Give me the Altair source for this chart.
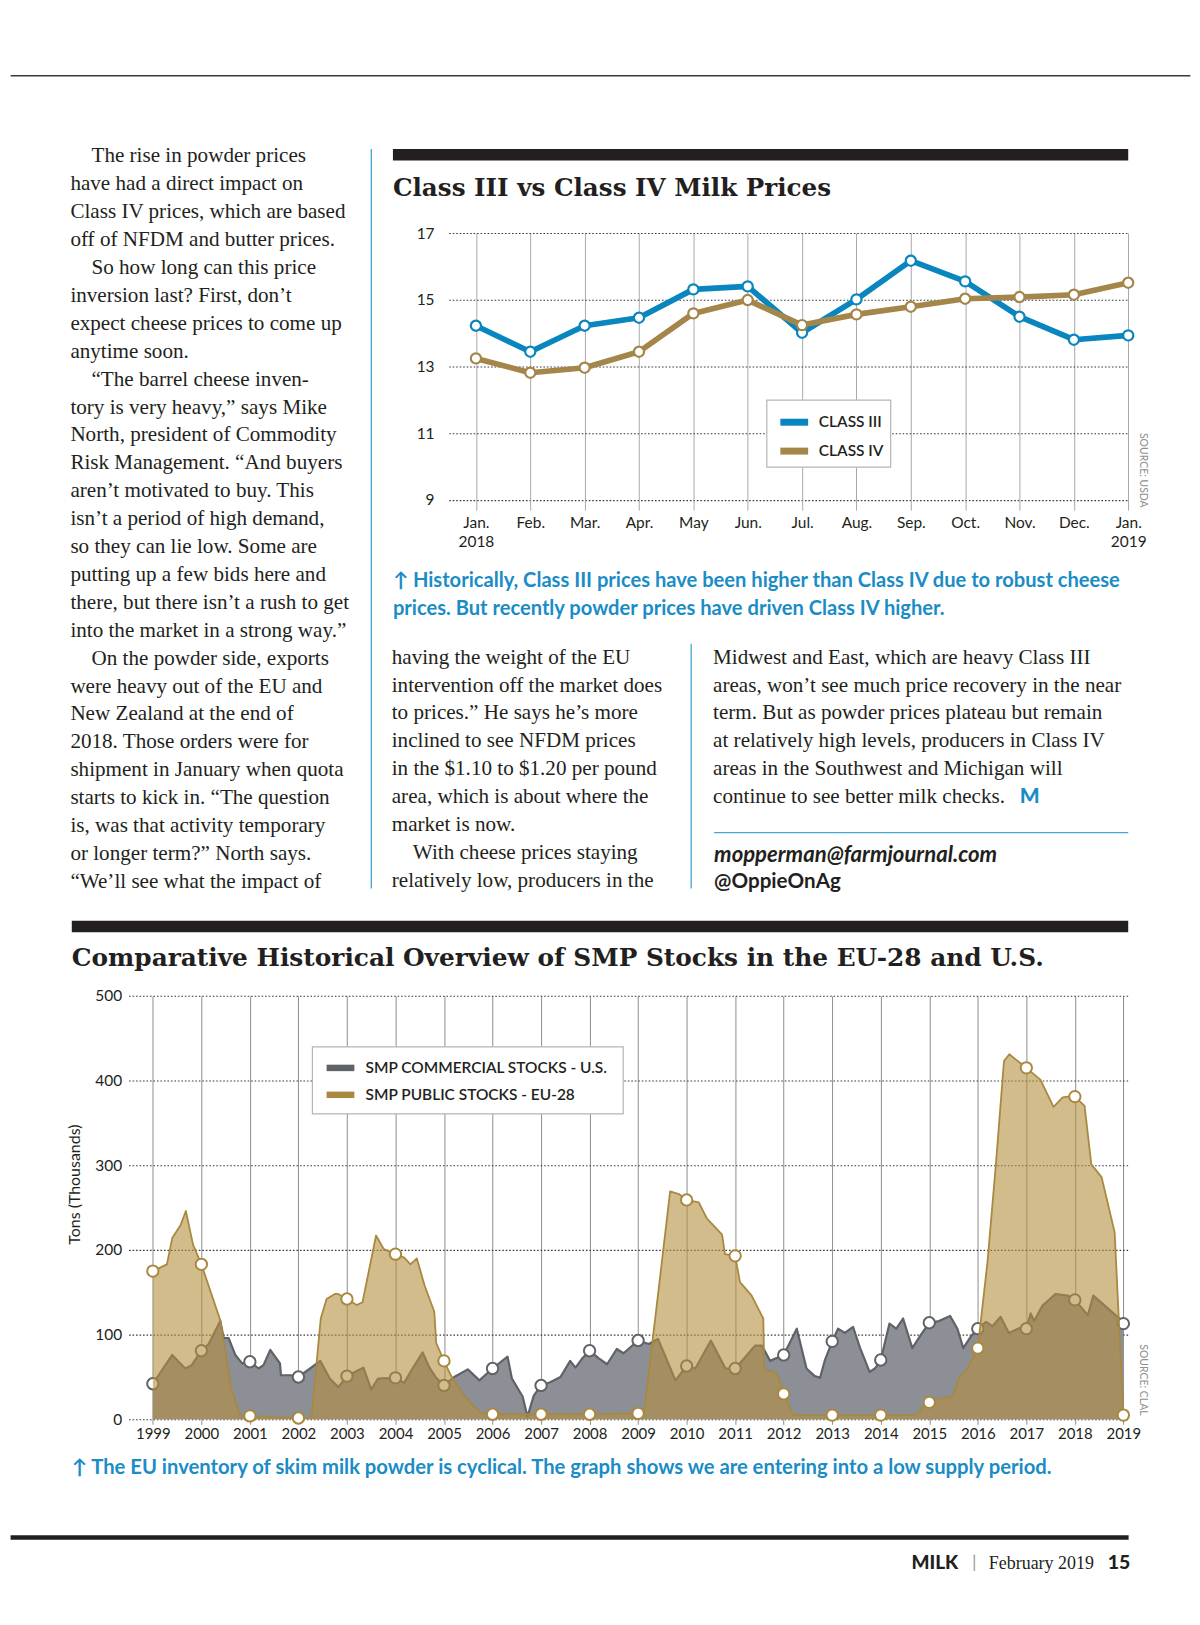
import altair as alt
import pandas as pd

# ---------------- data ----------------
month_labels = ["Jan.", "Feb.", "Mar.", "Apr.", "May", "Jun.", "Jul.", "Aug.", "Sep.", "Oct.", "Nov.", "Dec.", "Jan."]
month_years = {0: "2018", 12: "2019"}
class_iii = [14.22, 13.44, 14.22, 14.46, 15.31, 15.40, 14.01, 15.01, 16.17, 15.55, 14.49, 13.80, 13.93]
class_iv = [13.24, 12.81, 12.96, 13.44, 14.59, 14.99, 14.24, 14.56, 14.79, 15.03, 15.08, 15.15, 15.51]
top_series = ["CLASS III", "CLASS IV"]
top_colors = ["#0a86bf", "#a5864a"]
top_y_ticks = [9, 11, 13, 15, 17]

us_t = [1999.0, 1999.4, 1999.53, 1999.67, 1999.8, 2000.0, 2000.15, 2000.39, 2000.46, 2000.56, 2000.7, 2000.84,
        2001.0, 2001.18, 2001.28, 2001.42, 2001.62, 2001.64, 2001.86, 2002.0, 2002.24, 2002.45, 2002.65, 2002.82,
        2003.0, 2003.2, 2003.34, 2003.5, 2003.64, 2004.0, 2004.18, 2004.32, 2004.56, 2004.7, 2004.84,
        2005.0, 2005.21, 2005.49, 2005.73, 2006.0, 2006.31, 2006.4, 2006.62, 2006.72, 2006.85,
        2007.0, 2007.2, 2007.4, 2007.6, 2007.71, 2007.85, 2008.0, 2008.19, 2008.36, 2008.56, 2008.7,
        2009.0, 2009.22, 2009.41, 2009.77, 2010.0, 2010.18, 2010.5, 2010.8, 2011.0, 2011.17, 2011.41, 2011.55,
        2011.72, 2012.0, 2012.27, 2012.47, 2012.64, 2012.75, 2012.85, 2013.0, 2013.12, 2013.26, 2013.43,
        2013.57, 2013.77, 2013.88, 2014.0, 2014.18, 2014.32, 2014.46, 2014.65, 2014.83, 2015.0, 2015.2,
        2015.43, 2015.58, 2015.7, 2015.86, 2016.0, 2016.17, 2016.3, 2016.47, 2016.64, 2016.91, 2017.0,
        2017.09, 2017.16, 2017.33, 2017.6, 2017.86, 2018.0, 2018.27, 2018.38, 2018.68, 2018.96, 2019.0]
us_v = [42, 76, 68, 60, 64, 81, 89, 116, 96, 96, 76, 66,
        68, 60, 64, 82, 66, 52, 52, 50, 60, 69, 48, 38,
        51, 57, 61, 35, 48, 49, 43, 57, 79, 61, 49,
        40, 50, 59, 46, 60, 74, 48, 27, 3, 28,
        40, 44, 50, 69, 61, 72, 81, 72, 65, 83, 78,
        93, 89, 95, 46, 63, 60, 93, 60, 60, 71, 87, 87,
        69, 76, 107, 60, 51, 49, 70, 92, 107, 102, 109,
        85, 56, 60, 70, 113, 107, 119, 84, 100, 114, 116,
        122, 107, 84, 98, 107, 115, 110, 121, 102, 109, 107,
        125, 116, 134, 148, 146, 141, 123, 146, 131, 117, 113]
eu_t = [1999.0, 1999.29, 1999.4, 1999.57, 1999.68, 1999.83, 2000.0, 2000.39, 2000.6, 2000.8, 2001.0,
        2002.0, 2002.27, 2002.46, 2002.58, 2002.75, 2002.82, 2003.0, 2003.2, 2003.32, 2003.6, 2003.76,
        2004.0, 2004.18, 2004.31, 2004.44, 2004.6, 2004.8, 2004.84, 2005.0, 2005.14, 2005.32, 2005.5,
        2005.75, 2005.95, 2006.0, 2007.0, 2008.0, 2009.0, 2009.12, 2009.66, 2009.84, 2010.0, 2010.25,
        2010.42, 2010.73, 2010.79, 2011.0, 2011.1, 2011.34, 2011.58, 2011.6, 2011.82, 2011.89, 2012.0,
        2012.2, 2013.0, 2014.0, 2014.7, 2015.0, 2015.2, 2015.48, 2015.62, 2015.75, 2016.0, 2016.2,
        2016.37, 2016.54, 2016.65, 2016.78, 2017.0, 2017.29, 2017.56, 2017.75, 2017.86, 2018.0, 2018.2,
        2018.34, 2018.55, 2018.82, 2019.0]
eu_v = [175, 183, 214, 229, 246, 206, 183, 117, 40, 4, 4,
        1.5, 2, 119, 142, 148, 148, 142, 135, 138, 217, 201,
        195, 191, 183, 190, 158, 127, 90, 69, 52, 36, 22,
        8, 6, 6, 6, 6, 7, 6, 269, 266, 259, 256,
        237, 218, 195, 193, 162, 146, 119, 58, 56, 50, 30,
        5, 5, 5, 5, 20, 24, 27, 50, 56, 84, 186,
        299, 423, 431, 425, 415, 401, 369, 380, 381, 381, 370,
        301, 286, 221, 5]
bottom_series = ["SMP COMMERCIAL STOCKS - U.S.", "SMP PUBLIC STOCKS - EU-28"]
bottom_line_colors = ["#5f6266", "#a8893f"]
bottom_x_ticks = list(range(1999, 2020))
bottom_y_ticks = [0, 100, 200, 300, 400, 500]

top_title = "Class III vs Class IV Milk Prices"
bottom_title = "Comparative Historical Overview of SMP Stocks in the EU-28 and U.S."
top_caption = ["\u2191 Historically, Class III prices have been higher than Class IV due to robust cheese",
               "prices. But recently powder prices have driven Class IV higher."]
bottom_caption = "\u2191 The EU inventory of skim milk powder is cyclical. The graph shows we are entering into a low supply period."
IND = "\u200b\u00a0\u00a0\u00a0\u00a0"   # paragraph indent (zero-width lead keeps the spaces)
left_col = [
    IND + "The rise in powder prices",
    "have had a direct impact on",
    "Class IV prices, which are based",
    "off of NFDM and butter prices.",
    IND + "So how long can this price",
    "inversion last? First, don\u2019t",
    "expect cheese prices to come up",
    "anytime soon.",
    IND + "\u201cThe barrel cheese inven-",
    "tory is very heavy,\u201d says Mike",
    "North, president of Commodity",
    "Risk Management. \u201cAnd buyers",
    "aren\u2019t motivated to buy. This",
    "isn\u2019t a period of high demand,",
    "so they can lie low. Some are",
    "putting up a few bids here and",
    "there, but there isn\u2019t a rush to get",
    "into the market in a strong way.\u201d",
    IND + "On the powder side, exports",
    "were heavy out of the EU and",
    "New Zealand at the end of",
    "2018. Those orders were for",
    "shipment in January when quota",
    "starts to kick in. \u201cThe question",
    "is, was that activity temporary",
    "or longer term?\u201d North says.",
    "\u201cWe\u2019ll see what the impact of",
]
mid_col = [
    "having the weight of the EU",
    "intervention off the market does",
    "to prices.\u201d He says he\u2019s more",
    "inclined to see NFDM prices",
    "in the $1.10 to $1.20 per pound",
    "area, which is about where the",
    "market is now.",
    IND + "With cheese prices staying",
    "relatively low, producers in the",
]
right_col = [
    "Midwest and East, which are heavy Class III",
    "areas, won\u2019t see much price recovery in the near",
    "term. But as powder prices plateau but remain",
    "at relatively high levels, producers in Class IV",
    "areas in the Southwest and Michigan will",
    "continue to see better milk checks.",
]
end_mark = "M"
email = "mopperman@farmjournal.com"
handle = "@OppieOnAg"
top_source = "SOURCE: USDA"
bottom_source = "SOURCE: CLAL"
footer_brand = "MILK"
footer_date = "February 2019"
footer_page = "15"

# ---------------- styles / layout ----------------
INK = "#231f20"
BLUE = "#1a8cc6"
RULE_BLUE = "#45a6d8"
SANS = "Lato"
SERIF = "Liberation Serif"
SLAB = "DejaVu Serif"
BODY_SIZE = 21.2
LH = 28.0

TX0, TY0 = 126.4, 230.3   # page position of top plot view
TW, TH = 1003.2, 267.7
XR0 = 321.3               # start of the top chart's x range inside its view
BX0, BY0 = 126.4, 995.5   # page position of bottom plot view
BW, BH = 1003.2, 425


def tx(x): return x - TX0
def ty(y): return y - TY0
def bx(x): return x - BX0
def by(y): return y - BY0


one = pd.DataFrame({"k": [0]})


def text(t, x, y, **kw):
    props = dict(align="left", baseline="alphabetic")
    props.update(kw)
    return alt.Chart(one).mark_text(**props).encode(x=alt.value(x), y=alt.value(y), text=alt.value(t))


def hrule(x1, x2, y, color, w):
    return alt.Chart(one).mark_rule(color=color, strokeWidth=w).encode(
        x=alt.value(x1), x2=alt.value(x2), y=alt.value(y))


def vrule(x, y1, y2, color, w):
    return alt.Chart(one).mark_rule(color=color, strokeWidth=w).encode(
        x=alt.value(x), y=alt.value(y1), y2=alt.value(y2))


def box(x1, x2, y1, y2, **kw):
    return alt.Chart(one).mark_rect(**kw).encode(
        x=alt.value(x1), x2=alt.value(x2), y=alt.value(y1), y2=alt.value(y2))


# ---------------- top chart ----------------
top_df = pd.DataFrame({
    "i": list(range(13)) * 2,
    "value": class_iii + class_iv,
    "series": [top_series[0]] * 13 + [top_series[1]] * 13,
})
parts = []
for k, m in enumerate(month_labels):
    parts.append(f"['{m}','{month_years[k]}']" if k in month_years else f"'{m}'")
label_expr = "[" + ",".join(parts) + "][datum.value]"

x_top = alt.X("i:Q", scale=alt.Scale(domain=[-0.5, 12], range=[XR0, TW], nice=False, zero=False),
              axis=alt.Axis(values=list(range(13)), labelExpr=label_expr, grid=True, gridColor="#a9a9a9",
                            gridWidth=1, ticks=True, tickSize=10.4, tickColor="#a9a9a9", domain=False,
                            labelPadding=5, labelFont=SANS, labelFontSize=15.5, labelColor=INK,
                            labelLineHeight=19, labelFlush=False, labelOverlap=False, title=None))
y_top = alt.Y("value:Q", scale=alt.Scale(domain=[9, 17], nice=False, zero=False),
              axis=alt.Axis(values=top_y_ticks, offset=-XR0, grid=True, gridDash=[1.6, 1.9],
                            gridColor="#3a3a3a", gridWidth=1.1, domain=False, ticks=False, tickSize=0,
                            labelPadding=14.7, labelFont=SANS, labelFontSize=15.5, labelColor=INK,
                            title=None))
top_color_scale = alt.Scale(domain=top_series, range=top_colors)
top_legend = alt.Legend(title=None, orient="none", legendX=tx(786.7), legendY=ty(412.4), direction="vertical",
                        symbolType="M-4,0H4", symbolSize=48.6, symbolStrokeWidth=7, padding=0,
                        labelFont=SANS, labelFontSize=15.5, labelFontWeight=600, labelColor=INK,
                        labelOffset=16.9, rowPadding=0, labelLimit=400)

top_layers = [
    box(tx(8), tx(1192), ty(8), ty(1600), opacity=0),
    hrule(tx(8), tx(1192), ty(72.5), "#3a3a3a", 1.5),
    box(tx(391.7), tx(1129.6), ty(146), ty(157.5), color=INK),
    text(top_title, tx(391.7), ty(193), font=SLAB, fontSize=24.7, fontWeight="bold", color=INK),
    vrule(tx(370), ty(146), ty(888), RULE_BLUE, 1.3),
    vrule(tx(691), ty(642.5), ty(888), RULE_BLUE, 1.3),
    hrule(tx(714), tx(1129.6), ty(832), RULE_BLUE, 1.3),
    text("\n".join(top_caption), tx(391.7), ty(585.5), lineBreak="\n", lineHeight=28,
         font=SANS, fontSize=20.2, fontWeight="bold", color=BLUE),
    text("\n".join(left_col), tx(68), ty(159.5), lineBreak="\n", lineHeight=LH,
         font=SERIF, fontSize=BODY_SIZE, color=INK),
    text("\n".join(mid_col), tx(390.5), ty(662.5), lineBreak="\n", lineHeight=LH,
         font=SERIF, fontSize=BODY_SIZE, color=INK),
    text("\n".join(right_col), tx(713), ty(662.5), lineBreak="\n", lineHeight=LH,
         font=SERIF, fontSize=BODY_SIZE, color=INK),
    text(end_mark, tx(1020.8), ty(662.5 + 5 * LH), font=SANS, fontSize=21, fontWeight=900, color=BLUE),
    text(email, tx(714), ty(862), font=SANS, fontSize=22.2, fontWeight="bold", fontStyle="italic", color=INK),
    text(handle, tx(714), ty(888), font=SANS, fontSize=20.7, fontWeight="bold", color=INK),
    text(top_source, tx(1144), ty(468.4), font=SANS, fontSize=10.5, color="#8f8f8f", angle=90,
         align="center", baseline="middle"),
    box(tx(766.9), tx(891.2), ty(398), ty(465.3), fill="white", stroke="#b5b5b5", strokeWidth=1.2),
]
for s in top_series:
    base = alt.Chart(top_df).transform_filter(alt.datum.series == s)
    top_layers.append(base.mark_line(strokeWidth=5.7, strokeJoin="round", strokeCap="round").encode(
        x=x_top, y=y_top, color=alt.Color("series:N", scale=top_color_scale, legend=top_legend)))
    top_layers.append(base.mark_point(filled=False, fill="white", size=104, strokeWidth=2.2, opacity=1).encode(
        x=x_top, y=y_top, color=alt.Color("series:N", scale=top_color_scale, legend=None)))

top_chart = alt.layer(*top_layers).properties(width=TW, height=TH)

# ---------------- bottom chart ----------------
us_df = pd.DataFrame({"t": us_t, "v": us_v, "series": bottom_series[0]})
eu_df = pd.DataFrame({"t": eu_t, "v": eu_v, "series": bottom_series[1]})

x_bot = alt.X("t:Q", scale=alt.Scale(domain=[1998.5, 2019.1], nice=False, zero=False),
              axis=alt.Axis(values=bottom_x_ticks, format="d", grid=True, gridColor="#8e8e8e", gridWidth=1,
                            ticks=True, tickSize=5, tickColor="#8e8e8e", domain=False, labelPadding=2,
                            labelFont=SANS, labelFontSize=15, labelColor=INK, labelFlush=False,
                            labelOverlap=False, title=None))
y_bot = alt.Y("v:Q", scale=alt.Scale(domain=[0, 500], nice=False),
              axis=alt.Axis(values=bottom_y_ticks, grid=True, gridDash=[1.6, 1.9], gridColor="#3a3a3a",
                            gridWidth=1.1, domain=False, ticks=False, tickSize=0, labelPadding=7,
                            labelFont=SANS, labelFontSize=15.5, labelColor=INK,
                            title="Tons (Thousands)", titleFont=SANS, titleFontSize=16,
                            titleFontWeight="normal", titleColor=INK, titleAngle=270,
                            titleX=bx(72.5), titleY=by(1184.5), titleAlign="center", titleBaseline="middle"))
bot_color_scale = alt.Scale(domain=bottom_series, range=bottom_line_colors)
bot_legend = alt.Legend(title=None, orient="none", legendX=bx(331.3), legendY=by(1060.1), direction="vertical",
                        symbolType="M-4,0H4", symbolSize=48.6, symbolStrokeWidth=6.5, padding=0,
                        labelFont=SANS, labelFontSize=15.5, labelFontWeight=600, labelColor=INK,
                        labelOffset=17.4, rowPadding=0, labelLimit=400)

year_filter = "datum.t == floor(datum.t)"
bottom_layers = [
    box(bx(69.4), bx(1129.6), by(920.2), by(931.6), color=INK),
    text(bottom_title, bx(69.4), by(966), font=SLAB, fontSize=24.9, fontWeight="bold", color=INK),
    box(bx(310.9), bx(622.8), by(1046.7), by(1114), fill="white", stroke="#b5b5b5", strokeWidth=1.2),
    text(bottom_source, bx(1144), by(1381), font=SANS, fontSize=10.5, color="#8f8f8f", angle=90,
         align="center", baseline="middle"),
    text(bottom_caption, bx(69.4), by(1475), font=SANS, fontSize=20.3, fontWeight="bold", color=BLUE),
    hrule(bx(8), bx(1130), by(1539), INK, 4.5),
    text(footer_brand, bx(912), by(1571), font=SANS, fontSize=19, fontWeight=900, color=INK),
    text("|", bx(975), by(1570), font=SANS, fontSize=18, color="#9a9a9a", align="center"),
    text(footer_date, bx(989.7), by(1571), font=SERIF, fontSize=18, color=INK),
    text(footer_page, bx(1109), by(1571), font=SANS, fontSize=19.5, fontWeight=900, color=INK),
]
us = alt.Chart(us_df)
eu = alt.Chart(eu_df)
bottom_layers += [
    us.mark_area(color="#8c8f96", fillOpacity=1).encode(x=x_bot, y=y_bot),
    us.mark_line(strokeWidth=2.2, strokeJoin="round").encode(
        x=x_bot, y=y_bot, color=alt.Color("series:N", scale=bot_color_scale, legend=bot_legend)),
    us.transform_filter(year_filter).mark_point(filled=False, fill="white", size=130, strokeWidth=2,
                                                opacity=1).encode(
        x=x_bot, y=y_bot, color=alt.Color("series:N", scale=bot_color_scale, legend=None)),
    eu.mark_area(color="#b68f40", fillOpacity=0.6).encode(x=x_bot, y=y_bot),
    eu.mark_line(strokeWidth=1.8, strokeJoin="round").encode(
        x=x_bot, y=y_bot, color=alt.Color("series:N", scale=bot_color_scale, legend=bot_legend)),
    eu.transform_filter(year_filter).mark_point(filled=False, fill="white", size=130, strokeWidth=2,
                                                opacity=1).encode(
        x=x_bot, y=y_bot, color=alt.Color("series:N", scale=bot_color_scale, legend=None)),
]
bottom_chart = alt.layer(*bottom_layers).properties(width=BW, height=BH)

chart = alt.vconcat(top_chart, bottom_chart, spacing=BY0 - (TY0 + TH), bounds="flush").resolve_scale(
    x="independent", y="independent", color="independent").resolve_legend(color="independent").properties(
    padding=0, background="white").configure_view(strokeWidth=0)

chart.save("out.html", embed_options={"renderer": "svg", "actions": False})
